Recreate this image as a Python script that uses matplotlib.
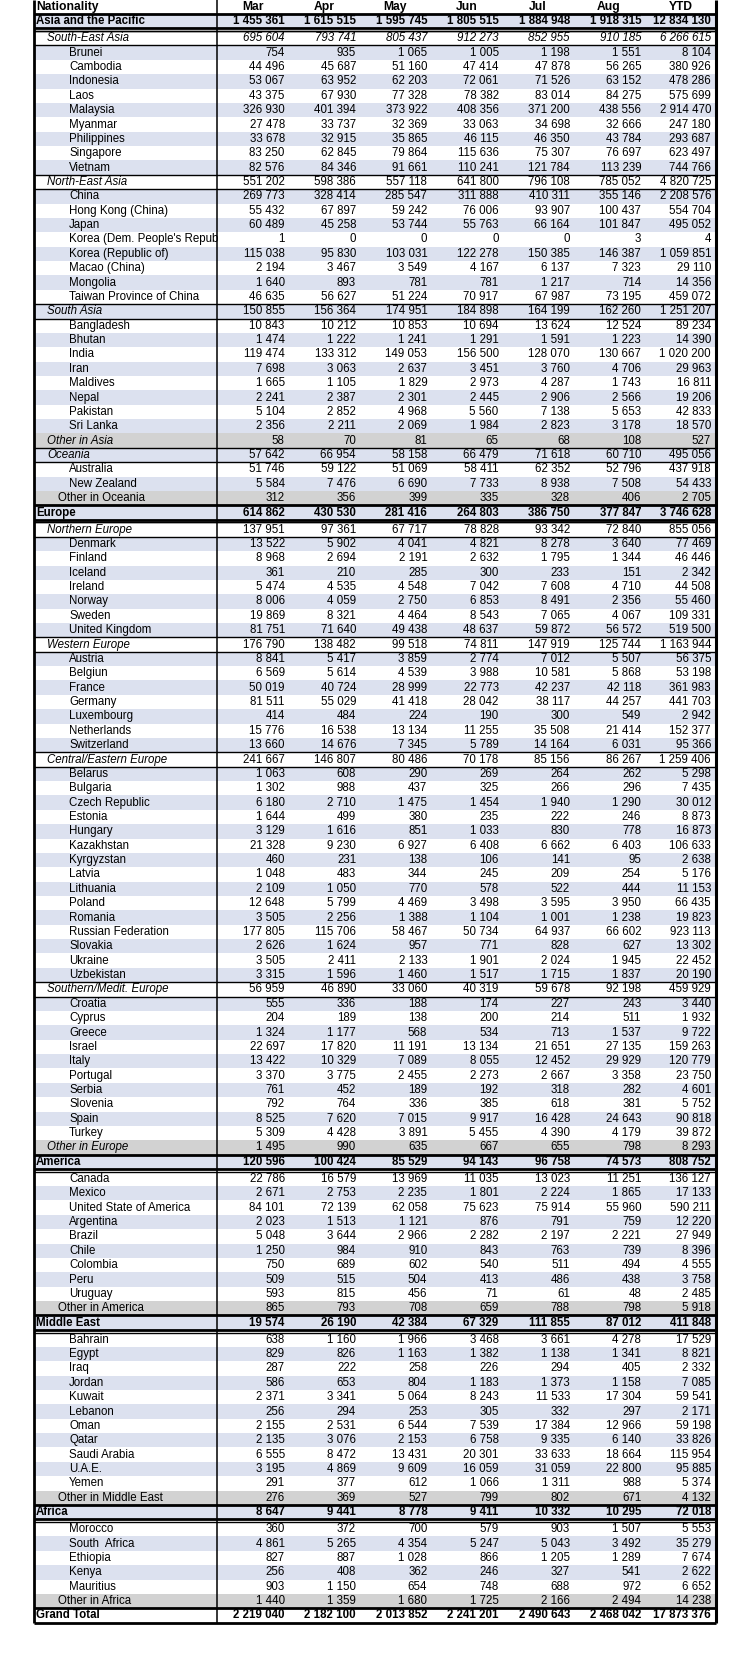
import matplotlib
matplotlib.use("Agg")
import matplotlib.pyplot as plt
from matplotlib.patches import Rectangle

# ---------------- data ----------------
columns = ["Mar", "Apr", "May", "Jun", "Jul", "Aug", "YTD"]

names = [
    "Asia and the Pacific", "South-East Asia", "Brunei", "Cambodia", "Indonesia", "Laos", "Malaysia",
    "Myanmar", "Philippines", "Singapore", "Vietnam", "North-East Asia", "China", "Hong Kong (China)",
    "Japan", "Korea (Dem. People's Repub", "Korea (Republic of)", "Macao (China)", "Mongolia",
    "Taiwan Province of China", "South Asia", "Bangladesh", "Bhutan", "India", "Iran", "Maldives",
    "Nepal", "Pakistan", "Sri Lanka", "Other in Asia", "Oceania", "Australia", "New Zealand",
    "Other in Oceania", "Europe", "Northern Europe", "Denmark", "Finland", "Iceland", "Ireland",
    "Norway", "Sweden", "United Kingdom", "Western Europe", "Austria", "Belgiun", "France", "Germany",
    "Luxembourg", "Netherlands", "Switzerland", "Central/Eastern Europe", "Belarus", "Bulgaria",
    "Czech Republic", "Estonia", "Hungary", "Kazakhstan", "Kyrgyzstan", "Latvia", "Lithuania",
    "Poland", "Romania", "Russian Federation", "Slovakia", "Ukraine", "Uzbekistan",
    "Southern/Medit. Europe", "Croatia", "Cyprus", "Greece", "Israel", "Italy", "Portugal", "Serbia",
    "Slovenia", "Spain", "Turkey", "Other in Europe", "America", "Canada", "Mexico",
    "United State of America", "Argentina", "Brazil", "Chile", "Colombia", "Peru", "Uruguay",
    "Other in America", "Middle East", "Bahrain", "Egypt", "Iraq", "Jordan", "Kuwait", "Lebanon",
    "Oman", "Qatar", "Saudi Arabia", "U.A.E.", "Yemen", "Other in Middle East", "Africa", "Morocco",
    "South  Africa", "Ethiopia", "Kenya", "Mauritius", "Other in Africa", "Grand Total",
]

# R = region, S = sub-region, C = country, OI = other (sub-region level), O = other, G = grand total
levels = [
    "R", "S", "C", "C", "C", "C", "C", "C", "C", "C", "C", "S", "C", "C", "C", "C", "C", "C", "C", "C",
    "S", "C", "C", "C", "C", "C", "C", "C", "C", "OI", "S", "C", "C", "O", "R", "S", "C", "C", "C", "C",
    "C", "C", "C", "S", "C", "C", "C", "C", "C", "C", "C", "S", "C", "C", "C", "C", "C", "C", "C", "C",
    "C", "C", "C", "C", "C", "C", "C", "S", "C", "C", "C", "C", "C", "C", "C", "C", "C", "C", "OI",
    "R", "C", "C", "C", "C", "C", "C", "C", "C", "C", "O", "R", "C", "C", "C", "C", "C", "C", "C", "C",
    "C", "C", "C", "O", "R", "C", "C", "C", "C", "C", "O", "G",
]

mar = [1455361, 695604, 754, 44496, 53067, 43375, 326930, 27478, 33678, 83250, 82576, 551202, 269773,
       55432, 60489, 1, 115038, 2194, 1640, 46635, 150855, 10843, 1474, 119474, 7698, 1665, 2241, 5104,
       2356, 58, 57642, 51746, 5584, 312, 614862, 137951, 13522, 8968, 361, 5474, 8006, 19869, 81751,
       176790, 8841, 6569, 50019, 81511, 414, 15776, 13660, 241667, 1063, 1302, 6180, 1644, 3129, 21328,
       460, 1048, 2109, 12648, 3505, 177805, 2626, 3505, 3315, 56959, 555, 204, 1324, 22697, 13422, 3370,
       761, 792, 8525, 5309, 1495, 120596, 22786, 2671, 84101, 2023, 5048, 1250, 750, 509, 593, 865,
       19574, 638, 829, 287, 586, 2371, 256, 2155, 2135, 6555, 3195, 291, 276, 8647, 360, 4861, 827, 256,
       903, 1440, 2219040]
apr = [1615515, 793741, 935, 45687, 63952, 67930, 401394, 33737, 32915, 62845, 84346, 598386, 328414,
       67897, 45258, 0, 95830, 3467, 893, 56627, 156364, 10212, 1222, 133312, 3063, 1105, 2387, 2852,
       2211, 70, 66954, 59122, 7476, 356, 430530, 97361, 5902, 2694, 210, 4535, 4059, 8321, 71640,
       138482, 5417, 5614, 40724, 55029, 484, 16538, 14676, 146807, 608, 988, 2710, 499, 1616, 9230,
       231, 483, 1050, 5799, 2256, 115706, 1624, 2411, 1596, 46890, 336, 189, 1177, 17820, 10329, 3775,
       452, 764, 7620, 4428, 990, 100424, 16579, 2753, 72139, 1513, 3644, 984, 689, 515, 815, 793,
       26190, 1160, 826, 222, 653, 3341, 294, 2531, 3076, 8472, 4869, 377, 369, 9441, 372, 5265, 887, 408,
       1150, 1359, 2182100]
may = [1595745, 805437, 1065, 51160, 62203, 77328, 373922, 32369, 35865, 79864, 91661, 557118, 285547,
       59242, 53744, 0, 103031, 3549, 781, 51224, 174951, 10853, 1241, 149053, 2637, 1829, 2301, 4968,
       2069, 81, 58158, 51069, 6690, 399, 281416, 67717, 4041, 2191, 285, 4548, 2750, 4464, 49438,
       99518, 3859, 4539, 28999, 41418, 224, 13134, 7345, 80486, 290, 437, 1475, 380, 851, 6927,
       138, 344, 770, 4469, 1388, 58467, 957, 2133, 1460, 33060, 188, 138, 568, 11191, 7089, 2455,
       189, 336, 7015, 3891, 635, 85529, 13969, 2235, 62058, 1121, 2966, 910, 602, 504, 456, 708,
       42384, 1966, 1163, 258, 804, 5064, 253, 6544, 2153, 13431, 9609, 612, 527, 8778, 700, 4354, 1028, 362,
       654, 1680, 2013852]
jun = [1805515, 912273, 1005, 47414, 72061, 78382, 408356, 33063, 46115, 115636, 110241, 641800, 311888,
       76006, 55763, 0, 122278, 4167, 781, 70917, 184898, 10694, 1291, 156500, 3451, 2973, 2445, 5560,
       1984, 65, 66479, 58411, 7733, 335, 264803, 78828, 4821, 2632, 300, 7042, 6853, 8543, 48637,
       74811, 2774, 3988, 22773, 28042, 190, 11255, 5789, 70178, 269, 325, 1454, 235, 1033, 6408,
       106, 245, 578, 3498, 1104, 50734, 771, 1901, 1517, 40319, 174, 200, 534, 13134, 8055, 2273,
       192, 385, 9917, 5455, 667, 94143, 11035, 1801, 75623, 876, 2282, 843, 540, 413, 71, 659,
       67329, 3468, 1382, 226, 1183, 8243, 305, 7539, 6758, 20301, 16059, 1066, 799, 9411, 579, 5247, 866, 246,
       748, 1725, 2241201]
jul = [1884948, 852955, 1198, 47878, 71526, 83014, 371200, 34698, 46350, 75307, 121784, 796108, 410311,
       93907, 66164, 0, 150385, 6137, 1217, 67987, 164199, 13624, 1591, 128070, 3760, 4287, 2906, 7138,
       2823, 68, 71618, 62352, 8938, 328, 386750, 93342, 8278, 1795, 233, 7608, 8491, 7065, 59872,
       147919, 7012, 10581, 42237, 38117, 300, 35508, 14164, 85156, 264, 266, 1940, 222, 830, 6662,
       141, 209, 522, 3595, 1001, 64937, 828, 2024, 1715, 59678, 227, 214, 713, 21651, 12452, 2667,
       318, 618, 16428, 4390, 655, 96758, 13023, 2224, 75914, 791, 2197, 763, 511, 486, 61, 788,
       111855, 3661, 1138, 294, 1373, 11533, 332, 17384, 9335, 33633, 31059, 1311, 802, 10332, 903, 5043, 1205, 327,
       688, 2166, 2490643]
aug = [1918315, 910185, 1551, 56265, 63152, 84275, 438556, 32666, 43784, 76697, 113239, 785052, 355146,
       100437, 101847, 3, 146387, 7323, 714, 73195, 162260, 12524, 1223, 130667, 4706, 1743, 2566, 5653,
       3178, 108, 60710, 52796, 7508, 406, 377847, 72840, 3640, 1344, 151, 4710, 2356, 4067, 56572,
       125744, 5507, 5868, 42118, 44257, 549, 21414, 6031, 86267, 262, 296, 1290, 246, 778, 6403,
       95, 254, 444, 3950, 1238, 66602, 627, 1945, 1837, 92198, 243, 511, 1537, 27135, 29929, 3358,
       282, 381, 24643, 4179, 798, 74573, 11251, 1865, 55960, 759, 2221, 739, 494, 438, 48, 798,
       87012, 4278, 1341, 405, 1158, 17304, 297, 12966, 6140, 18664, 22800, 988, 671, 10295, 1507, 3492, 1289, 541,
       972, 2494, 2468042]
ytd = [12834130, 6266615, 8104, 380926, 478286, 575699, 2914470, 247180, 293687, 623497, 744766, 4820725,
       2208576, 554704, 495052, 4, 1059851, 29110, 14356, 459072, 1251207, 89234, 14390, 1020200, 29963,
       16811, 19206, 42833, 18570, 527, 495056, 437918, 54433, 2705, 3746628, 855056, 77469, 46446, 2342,
       44508, 55460, 109331, 519500, 1163944, 56375, 53198, 361983, 441703, 2942, 152377, 95366, 1259406,
       5298, 7435, 30012, 8873, 16873, 106633, 2638, 5176, 11153, 66435, 19823, 923113, 13302, 22452,
       20190, 459929, 3440, 1932, 9722, 159263, 120779, 23750, 4601, 5752, 90818, 39872, 8293, 808752,
       136127, 17133, 590211, 12220, 27949, 8396, 4555, 3758, 2485, 5918, 411848, 17529, 8821, 2332, 7085,
       59541, 2171, 59198, 33826, 115954, 95885, 5374, 4132, 72018, 5553, 35279, 7674, 2622, 6652, 14238,
       17873376]

series = [mar, apr, may, jun, jul, aug, ytd]
italic_number_rows = ["South-East Asia"]

# ---------------- style ----------------
FONT = ["Liberation Sans", "Arial", "DejaVu Sans"]
FS = 8.3
BLUE = "#DCE1EF"
GRAY = "#D2D2D2"
W, H = 750, 1667
X_L, X_DIV, X_R = 34.0, 217.0, 716.0
ROW_H = 14.37
GAP = 2.7
Y0 = 6.86

fig = plt.figure(figsize=(W / 100, H / 100), dpi=100)
ax = fig.add_axes([0, 0, 1, 1])
ax.set_xlim(0, W)
ax.set_ylim(H, 0)
ax.axis("off")

col_w = (X_R - X_DIV) / len(columns)


def fmt(v):
    return f"{v:,}".replace(",", " ")


def hline(y, lw, x0=X_L, x1=X_R):
    ax.plot([x0, x1], [y, y], color="black", lw=lw, solid_capstyle="butt", zorder=5)


# header
yc = Y0
ax.text(X_L + 2, yc, "Nationality", fontsize=FS + 0.4, fontweight="bold", family=FONT,
        ha="left", va="center", zorder=6)
for k, c in enumerate(columns):
    ax.text(X_DIV + (k + 0.5) * col_w, yc, c, fontsize=FS + 0.4, fontweight="bold",
            family=FONT, ha="center", va="center", zorder=6)

# body rows
y = Y0 + ROW_H
stripe_blue = False
bottom = None
for i, (name, lev) in enumerate(zip(names, levels)):
    top = y - ROW_H / 2
    bot = y + ROW_H / 2
    if lev == "R":
        fill = BLUE
        stripe_blue = False
    elif lev == "G":
        fill = "white"
    else:
        fill = BLUE if stripe_blue else "white"
        if lev in ("O", "OI"):
            fill = GRAY
        stripe_blue = not stripe_blue
    if fill != "white":
        ax.add_patch(Rectangle((X_L, top), X_R - X_L, ROW_H, facecolor=fill,
                               edgecolor="none", zorder=1))

    weight = "bold" if lev in ("R", "G") else "normal"
    style = "italic" if lev in ("S", "OI") else "normal"
    if lev in ("R", "G"):
        xlab = X_L + 2
    elif lev in ("S", "OI"):
        xlab = X_L + 13
    elif lev == "O":
        xlab = X_L + 24
    else:
        xlab = X_L + 35
    ax.text(xlab, y, name, fontsize=FS, fontweight=weight, fontstyle=style,
            family=FONT, ha="left", va="center", zorder=6)

    nstyle = "italic" if name in italic_number_rows else "normal"
    for k, s in enumerate(series):
        xr = X_DIV + (k + 1) * col_w - (5.0 if k == len(series) - 1 else 3.5)
        ax.text(xr, y, fmt(s[i]), fontsize=FS, fontweight=weight, fontstyle=nstyle,
                family=FONT, ha="right", va="center", zorder=6)

    if lev in ("R", "G"):
        hline(top, 2.0)
        hline(bot, 2.0)
        if lev == "R":
            hline(bot + GAP, 1.0)
    elif lev == "S":
        hline(top, 1.0)
        hline(bot, 1.0)

    y += ROW_H
    if lev == "R":
        y += GAP
    bottom = bot

# vertical borders
ax.plot([X_L, X_L], [0, bottom + 0.8], color="black", lw=2.0, solid_capstyle="butt", zorder=7)
ax.plot([X_R, X_R], [0, bottom + 0.8], color="black", lw=2.2, solid_capstyle="butt", zorder=7)
ax.plot([X_DIV, X_DIV], [0, bottom], color="black", lw=1.1, solid_capstyle="butt", zorder=7)

fig.savefig("out.png", dpi=100, facecolor="white")
